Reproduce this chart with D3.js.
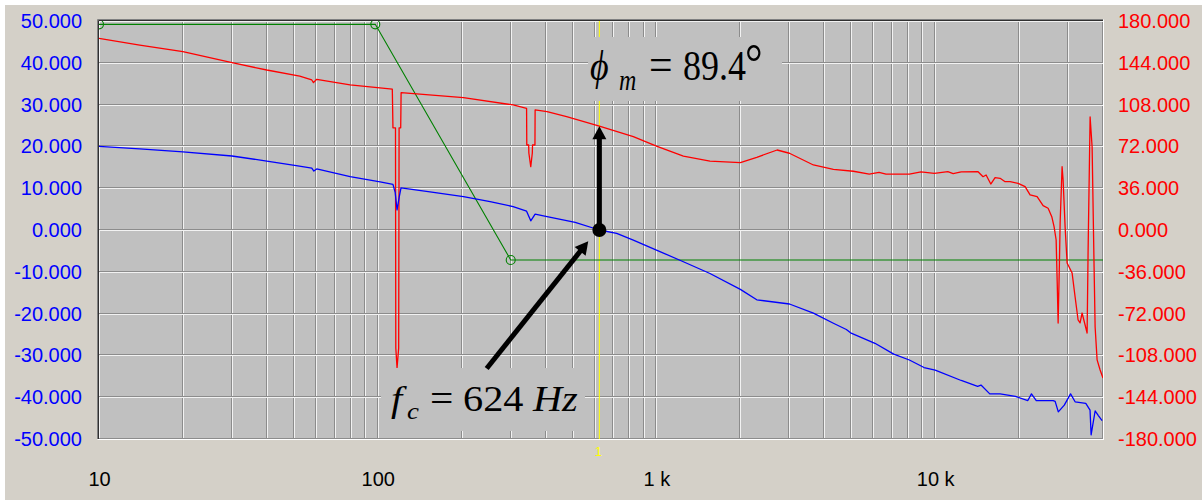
<!DOCTYPE html>
<html>
<head>
<meta charset="utf-8">
<script src="https://cdn.jsdelivr.net/npm/d3@7"></script>
<style>
  html, body { margin: 0; padding: 0; background: #d4d0c8; }
  svg { display: block; }
</style>
</head>
<body>
<svg id="chart" width="1202" height="500"></svg>
<script>
// Loop gain magnitude (dB, left axis)
const magFreq = [10, 14, 20, 30, 40, 51, 58, 59, 60.4, 79.6, 102, 113.4, 115.5, 117.3, 119.5, 121.2,
  154, 203, 253, 306, 342, 354, 367, 405, 511, 624, 720, 826, 1000, 1249, 1556, 2000, 2290, 3000,
  3656, 4313, 4800, 4970, 6080, 7100, 8080, 9120, 10000, 12400, 14200, 14600, 15700, 17100, 19400,
  21500, 22150, 23050, 25300, 26500, 26940, 27650, 29050, 30600, 31770, 34700, 35940, 36260, 37480,
  38500, 39700];
const magDb = [20.0, 19.4, 18.7, 17.7, 16.5, 15.4, 14.8, 14.1, 14.6, 12.75, 11.5, 10.9, 9.0, 4.8, 8.0, 10.1,
  9.1, 8.0, 6.8, 5.6, 4.5, 2.2, 3.8, 3.2, 1.8, 0.0, -0.8, -2.4, -4.8, -7.6, -10.4, -14.2, -16.7, -17.7,
  -19.9, -22.3, -23.8, -24.6, -27.1, -29.7, -31.1, -32.9, -33.5, -36.0, -37.4, -37.1, -39.2, -39.2, -39.8,
  -40.8, -39.2, -40.8, -40.8, -40.8, -41.0, -43.5, -41.9, -39.2, -41.1, -41.5, -43.1, -49.0, -43.3,
  -44.4, -45.6];

// Loop gain phase (degrees, right axis)
const phaseFreq = [10, 14, 20, 30, 40, 52.5, 58, 58.8, 60.4, 79.6, 112.8, 113.4, 115.8, 116.1, 117.3, 118.9,
  119.3, 120.9, 121.3, 203, 306, 342, 342.6, 348, 348.5, 354, 358.6, 359.2, 366.5, 367, 405, 476, 624,
  826, 1000, 1249, 1556, 2000, 2290, 2710, 3000, 3656, 4313, 5088, 5800, 6290, 6660, 8080, 8900, 9930,
  11100, 11600, 12400, 14250, 14850, 15230, 15830, 16400, 17100, 17820, 18570, 19840, 21020, 21900,
  23210, 24390, 25420, 26200, 26700, 27160, 27400, 27610, 27900, 28070, 28530, 28770, 29250, 29740,
  30990, 31770, 32560, 33100, 33650, 33930, 35080, 35370, 35960, 36560, 37160, 37480, 38100, 39060, 40000];
const phaseDeg = [165.1, 159.3, 153.6, 144.1, 137.8, 132.6, 129.2, 126.9, 129.8, 124.9, 121.3, 88, 88, -101.6, -118.6, -101.6,
  88, 88, 118.3, 114.0, 107.7, 104.8, 73.2, 73.2, 66.3, 54.5, 66.3, 73.2, 73.2, 103.4, 101.9, 97.6, 89.4,
  80.4, 72.3, 63.7, 59.4, 58.0, 62.6, 68.9, 66.1, 56.0, 52.3, 50.6, 48.2, 49.7, 48.2, 48.2, 50.0, 48.8,
  50.2, 48.5, 50.0, 50.2, 45.9, 47.4, 39.6, 45.1, 44.5, 41.6, 41.6, 40.2, 37.3, 30.2,
  28.7, 21.0, 18.7, 11.5, 2.9, -8.6, -45, -80.1, -30, 6.0, 54.5, 43.1, 2.6, -28.4,
  -37.0, -57.7, -77.5, -80, -71.5, -74.9, -88.7, -17.2, 97.3, 71.5, -31.9, -83.5, -111.9, -120.6, -127.5];

// Asymptotic target response (dB, left axis), corners marked with circles
const asymFreq = [10, 98, 300, 40000];
const asymDb = [49.2, 49.2, -7.17, -7.17];
const asymCorners = [10, 98, 300];

// Axis ticks and labels
const gainTicks = [-50, -40, -30, -20, -10, 0, 10, 20, 30, 40, 50];
const phaseTicks = [-180, -144, -108, -72, -36, 0, 36, 72, 108, 144, 180];
const freqTicks = [10, 100, 1000, 10000];
const freqLabels = ["10", "100", "1 k", "10 k"];

// Crossover annotation
const fc = 624;      // Hz
const pm = 89.4;     // degrees

const W = 1202, H = 500;
const L = 99, R = 1103, T = 21, B = 439;

const svg = d3.select("#chart");

const x = d3.scaleLog().domain([10, 40000]).range([L, R]);
const yL = d3.scaleLinear().domain([-50, 50]).range([B, T]);
const yR = d3.scaleLinear().domain([-180, 180]).range([B, T]);

// window background with light top/left edge
svg.append("rect").attr("width", W).attr("height", H).attr("fill", "#d4d0c8");
svg.append("rect").attr("width", W).attr("height", 5).attr("fill", "#ffffff");
svg.append("rect").attr("width", 5).attr("height", H).attr("fill", "#ffffff");

// plot area
svg.append("defs").append("clipPath").attr("id", "plotClip")
  .append("rect").attr("x", L).attr("y", T).attr("width", R - L).attr("height", B - T);

svg.append("rect").attr("x", L).attr("y", T).attr("width", R - L).attr("height", B - T)
  .attr("fill", "#c0c0c0");

const grid = svg.append("g").attr("clip-path", "url(#plotClip)");
const vTicks = x.ticks();
const hTicks = gainTicks;

// etched grid: dark line followed by a light one
grid.selectAll("line.vd").data(vTicks).join("line")
  .attr("x1", d => Math.round(x(d)) - 0.5).attr("x2", d => Math.round(x(d)) - 0.5)
  .attr("y1", T).attr("y2", B).attr("stroke", "#8c8c8c").attr("stroke-width", 1);
grid.selectAll("line.vl").data(vTicks).join("line")
  .attr("x1", d => Math.round(x(d)) + 0.5).attr("x2", d => Math.round(x(d)) + 0.5)
  .attr("y1", T).attr("y2", B).attr("stroke", "#f2f2f2").attr("stroke-width", 1);
grid.selectAll("line.hd").data(hTicks).join("line")
  .attr("x1", L).attr("x2", R)
  .attr("y1", d => Math.round(yL(d)) - 0.5).attr("y2", d => Math.round(yL(d)) - 0.5)
  .attr("stroke", "#8c8c8c").attr("stroke-width", 1);
grid.selectAll("line.hl").data(hTicks).join("line")
  .attr("x1", L).attr("x2", R)
  .attr("y1", d => Math.round(yL(d)) + 0.5).attr("y2", d => Math.round(yL(d)) + 0.5)
  .attr("stroke", "#f2f2f2").attr("stroke-width", 1);

// crossover cursor
grid.append("line")
  .attr("x1", x(fc)).attr("x2", x(fc)).attr("y1", T).attr("y2", B)
  .attr("stroke", "#ffff00").attr("stroke-width", 1);

// sunken frame
svg.append("line").attr("x1", L - 1.5).attr("x2", R).attr("y1", T - 1.5).attr("y2", T - 1.5).attr("stroke", "#808080");
svg.append("line").attr("x1", L - 1.5).attr("x2", L - 1.5).attr("y1", T - 1.5).attr("y2", B).attr("stroke", "#808080");
svg.append("line").attr("x1", L - 0.5).attr("x2", R).attr("y1", T - 0.5).attr("y2", T - 0.5).attr("stroke", "#303030");
svg.append("line").attr("x1", L - 0.5).attr("x2", L - 0.5).attr("y1", T - 0.5).attr("y2", B).attr("stroke", "#303030");
svg.append("line").attr("x1", L - 1.5).attr("x2", R + 1).attr("y1", B + 0.5).attr("y2", B + 0.5).attr("stroke", "#ffffff");
svg.append("line").attr("x1", R + 0.5).attr("x2", R + 0.5).attr("y1", T - 1.5).attr("y2", B + 1).attr("stroke", "#ffffff");

// curves
const plot = svg.append("g").attr("clip-path", "url(#plotClip)");

const asym = asymFreq.map((f, i) => ({ f, v: asymDb[i] }));
const mag = magFreq.map((f, i) => ({ f, v: magDb[i] }));
const phase = phaseFreq.map((f, i) => ({ f, v: phaseDeg[i] }));

const lineL = d3.line().x(d => x(d.f)).y(d => yL(d.v));
const lineR = d3.line().x(d => x(d.f)).y(d => yR(d.v));

plot.append("path").datum(asym).attr("d", lineL)
  .attr("fill", "none").attr("stroke", "#008000").attr("stroke-width", 1.1);
plot.selectAll("circle.corner").data(asymCorners).join("circle")
  .attr("cx", d => x(d))
  .attr("cy", d => yL(asymDb[asymFreq.indexOf(d)]))
  .attr("r", 4.5).attr("fill", "none").attr("stroke", "#008000").attr("stroke-width", 1.1);

plot.append("path").datum(phase).attr("d", lineR)
  .attr("fill", "none").attr("stroke", "#ff0000").attr("stroke-width", 1.3)
  .attr("stroke-linejoin", "round");
plot.append("path").datum(mag).attr("d", lineL)
  .attr("fill", "none").attr("stroke", "#0000ff").attr("stroke-width", 1.3)
  .attr("stroke-linejoin", "round");

// axes
const tickFmt = d => d.toFixed(3);

const axL = svg.append("g").attr("transform", `translate(${L},0)`)
  .call(d3.axisLeft(yL).tickValues(gainTicks).tickFormat(tickFmt).tickSize(0).tickPadding(17));
const axR = svg.append("g").attr("transform", `translate(${R},0)`)
  .call(d3.axisRight(yR).tickValues(phaseTicks).tickFormat(tickFmt).tickSize(0).tickPadding(15));
const axB = svg.append("g").attr("transform", `translate(0,${B})`)
  .call(d3.axisBottom(x).tickValues(freqTicks).tickFormat(d => freqLabels[freqTicks.indexOf(d)]).tickSize(0).tickPadding(33));

[axL, axR, axB].forEach(a => {
  a.select(".domain").remove();
  a.selectAll("text").attr("font-family", "'Liberation Sans', Arial, sans-serif").attr("font-size", 20);
});
axL.selectAll("text").attr("fill", "#0000ff");
axR.selectAll("text").attr("fill", "#ff0000");
axB.selectAll("text").attr("fill", "#000000");

// cursor index label
svg.append("text").attr("x", x(fc) - 1).attr("y", 456).attr("text-anchor", "middle")
  .attr("font-family", "'Liberation Sans', Arial, sans-serif").attr("font-size", 13)
  .attr("fill", "#ffff00").text("1");

// annotation boxes
svg.append("rect").attr("x", 588).attr("y", 37).attr("width", 194).attr("height", 64).attr("fill", "#c0c0c0");
svg.append("rect").attr("x", 381).attr("y", 368).attr("width", 204).attr("height", 63).attr("fill", "#c0c0c0");

const serif = "'Liberation Serif', 'Times New Roman', 'DejaVu Serif', serif";
function piece(txt, x0, base, size, italic, sx, sy) {
  svg.append("text")
    .attr("transform", `translate(${x0},${base}) scale(${sx},${sy})`)
    .attr("font-family", serif).attr("font-size", size)
    .attr("font-style", italic ? "italic" : "normal")
    .attr("fill", "#000000").text(txt);
}

// phase margin label
piece("\u03D5", 590, 80, 36, true, 1, 1.2);
piece("m", 619, 90, 24, true, 1, 1.2);
piece("=", 649, 80, 38, false, 1.1, 1.2);
piece("89.4", 683, 80, 36, false, 1, 1.2);
piece("\u00B0", 745, 80, 44, false, 1, 1.2);

// crossover frequency label
piece("f", 391, 410.7, 36, true, 1.12, 1);
piece("c", 407, 419, 24, true, 1.12, 1);
piece("=", 430, 410.7, 37, false, 1.12, 1);
piece("624", 463, 410.7, 36, false, 1.12, 1);
piece("Hz", 533, 410.7, 36, true, 1.12, 1);

// arrows
function arrow(x1, y1, x2, y2) {
  const headLen = 13, headW = 14;
  const dx = x2 - x1, dy = y2 - y1, len = Math.hypot(dx, dy);
  const ux = dx / len, uy = dy / len;
  const bx = x2 - ux * headLen, by = y2 - uy * headLen;
  svg.append("line").attr("x1", x1).attr("y1", y1).attr("x2", bx + ux * 2).attr("y2", by + uy * 2)
    .attr("stroke", "#000").attr("stroke-width", 5);
  const px = -uy * headW / 2, py = ux * headW / 2;
  svg.append("polygon")
    .attr("points", `${x2},${y2} ${bx + px},${by + py} ${bx - px},${by - py}`)
    .attr("fill", "#000");
}

const cx = x(fc), cy = yL(0);
arrow(cx, cy, cx, yR(pm));
arrow(cx - 112.7, cy + 138.5, cx - 11.1, cy + 11.2);
svg.append("circle").attr("cx", cx).attr("cy", cy).attr("r", 7).attr("fill", "#000");
</script>
</body>
</html>
